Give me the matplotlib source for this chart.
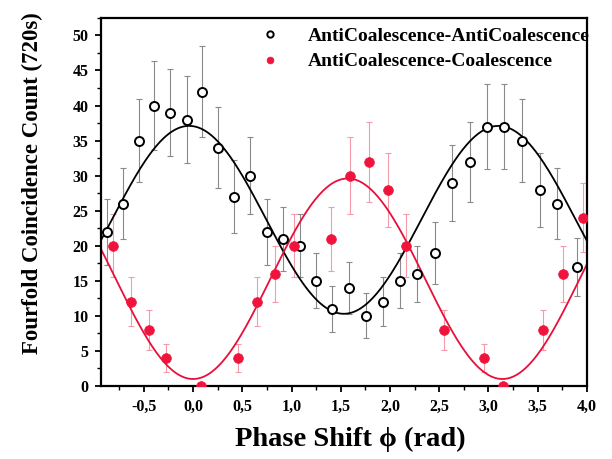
import numpy as np
import matplotlib
matplotlib.use("Agg")
import matplotlib.pyplot as plt
from matplotlib.ticker import MultipleLocator, FuncFormatter

# ---- data ----
aa_phase = [-0.87, -0.71, -0.55, -0.40, -0.23, -0.06, 0.09, 0.25, 0.42, 0.58,
            0.75, 0.91, 1.09, 1.25, 1.41, 1.58, 1.76, 1.93, 2.10, 2.27,
            2.46, 2.63, 2.81, 2.99, 3.16, 3.34, 3.52, 3.70, 3.90]
aa_counts = [22, 26, 35, 40, 39, 38, 42, 34, 27, 30,
             22, 21, 20, 15, 11, 14, 10, 12, 15, 16,
             19, 29, 32, 37, 37, 35, 28, 26, 17]
aa_err = [4.7, 5.1, 5.9, 6.3, 6.2, 6.2, 6.5, 5.8, 5.2, 5.5,
          4.7, 4.6, 4.5, 3.9, 3.3, 3.7, 3.2, 3.5, 3.9, 4.0,
          4.4, 5.4, 5.7, 6.1, 6.1, 5.9, 5.3, 5.1, 4.1]

ac_phase = [-0.81, -0.63, -0.45, -0.27, 0.08, 0.46, 0.65, 0.83, 1.03, 1.40,
            1.59, 1.79, 1.98, 2.16, 2.55, 2.95, 3.15, 3.55, 3.76, 3.96]
ac_counts = [20, 12, 8, 4, 0, 4, 12, 16, 20, 21,
             30, 32, 28, 20, 8, 4, 0, 8, 16, 24]
ac_err = [4.5, 3.5, 2.8, 2.0, 0.0, 2.0, 3.5, 4.0, 4.5, 4.6,
          5.5, 5.7, 5.3, 4.5, 2.8, 2.0, 0.0, 2.8, 4.0, 4.9]

# fitted cosine parameters (offset, amplitude, phase offset)
aa_fit = (23.7, 13.4, -0.04)
ac_fit = (15.3, -14.3, 0.0)

labels = ["AntiCoalescence-AntiCoalescence", "AntiCoalescence-Coalescence"]
xlabel = "Phase Shift \u03d5 (rad)"
ylabel = "Fourfold Coincidence Count (720s)"

serif = ["Liberation Serif", "DejaVu Serif"]
plt.rcParams["font.family"] = serif
plt.rcParams["font.weight"] = "bold"

fig = plt.figure(figsize=(6.12, 4.59), dpi=100)
ax = fig.add_axes([0.165, 0.159, 0.794, 0.802])

xs = np.linspace(-0.95, 4.05, 400)
ax.plot(xs, aa_fit[0] + aa_fit[1] * np.cos(2 * (xs - aa_fit[2])),
        color="black", lw=1.3, zorder=2)
ax.plot(xs, ac_fit[0] + ac_fit[1] * np.cos(2 * (xs - ac_fit[2])),
        color="#e8103a", lw=1.3, zorder=2)

ax.errorbar(aa_phase, aa_counts, yerr=aa_err, fmt="none", ecolor="#8a8a8a",
            elinewidth=0.8, capsize=2.5, capthick=0.8, zorder=1)
ax.errorbar(ac_phase, ac_counts, yerr=ac_err, fmt="none", ecolor="#f59aa8",
            elinewidth=0.8, capsize=2.5, capthick=0.8, zorder=1)

ax.plot(aa_phase, aa_counts, "o", mfc="white", mec="black", mew=1.4,
        ms=6.5, ls="none", label=labels[0], zorder=3)
ax.plot(ac_phase, ac_counts, "o", mfc="#f0143c", mec="#f0143c", mew=0.5,
        ms=7, ls="none", label=labels[1], zorder=3)

ax.set_xlim(-0.935, 4.0)
ax.set_ylim(0, 52.5)
ax.xaxis.set_major_locator(MultipleLocator(0.5))
ax.xaxis.set_minor_locator(MultipleLocator(0.25))
ax.yaxis.set_major_locator(MultipleLocator(5))
ax.yaxis.set_minor_locator(MultipleLocator(2.5))
ax.xaxis.set_major_formatter(FuncFormatter(lambda v, p: f"{v:.1f}".replace(".", ",")))
ax.yaxis.set_major_formatter(FuncFormatter(lambda v, p: f"{v:.0f}"))

ax.tick_params(which="major", direction="out", length=4.5, width=1.3,
               labelsize=11.5, pad=4.5, top=False, right=False)
ax.tick_params(which="minor", direction="out", length=2.8, width=1.0,
               top=False, right=False)
for lab in ax.get_xticklabels() + ax.get_yticklabels():
    lab.set_fontweight("bold")
for s in ax.spines.values():
    s.set_linewidth(1.6)

ax.set_xlabel(xlabel, fontsize=20.5, fontweight="bold")
ax.set_ylabel(ylabel, fontsize=16.5, fontweight="bold")
ax.xaxis.set_label_coords(0.514, -0.11)
ax.yaxis.set_label_coords(-0.119, 0.552)

leg = ax.legend(loc="upper left", bbox_to_anchor=(0.328, 0.975), frameon=False,
                prop={"family": serif, "weight": "bold", "size": 14},
                handlelength=1.0, handletextpad=1.46, borderaxespad=0,
                borderpad=0, labelspacing=0.42, markerscale=0.7)

fig.savefig("out.png", dpi=100)
